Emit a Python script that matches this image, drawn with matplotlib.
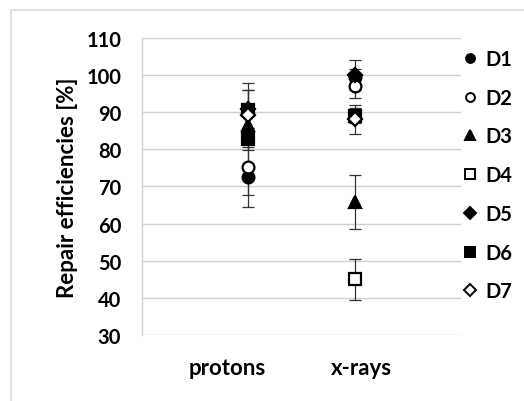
import matplotlib
matplotlib.use("Agg")
import matplotlib.pyplot as plt
from matplotlib.patches import Rectangle
from matplotlib.lines import Line2D

plt.rcParams['font.family'] = ['Lato', 'DejaVu Sans']
plt.rcParams['font.weight'] = 'bold'

categories = ["protons", "x-rays"]
cat_pos = [1, 2]
label_pos = [0.80, 2.06]
series = ["D1", "D2", "D3", "D4", "D5", "D6", "D7"]
values = {
    "D1": [72.5, 99.5],
    "D2": [75.3, 97.0],
    "D3": [86.5, 65.8],
    "D4": [90.5, 45.0],
    "D5": [90.8, 100.0],
    "D6": [82.8, 89.0],
    "D7": [89.3, 88.0],
}
errors = {
    "D1": [8.1, 2.0],
    "D2": [7.6, 3.3],
    "D3": [5.0, 7.2],
    "D4": [7.3, 5.5],
    "D5": [5.0, 4.0],
    "D6": [3.0, 2.0],
    "D7": [6.5, 3.8],
}
styles = {
    "D1": ("o", "black"),
    "D2": ("o", "white"),
    "D3": ("^", "black"),
    "D4": ("s", "white"),
    "D5": ("D", "black"),
    "D6": ("s", "black"),
    "D7": ("D", "white"),
}
sizes = {"o": 8.5, "^": 9, "s": 9, "D": 7.5}
yticks = [30, 40, 50, 60, 70, 80, 90, 100, 110]

fig = plt.figure(figsize=(5.24, 4.02), dpi=100)
ax = fig.add_axes([142/524, 1-336/402, (461-142)/524, (336-38.7)/402])

# chart area border
fig.patches.append(Rectangle((11/524, -0.1), 1.2, 1.1 - 11/402,
                             transform=fig.transFigure, fill=False,
                             edgecolor="#d9d9d9", linewidth=1.2))

handles = []
for s in series:
    ax.errorbar(cat_pos, values[s], yerr=errors[s], fmt="none",
                ecolor="#333333", elinewidth=0.9, capsize=4, capthick=0.9, zorder=2)
for s in series:
    m, fc = styles[s]
    ax.plot(cat_pos, values[s], linestyle="none", marker=m, markersize=sizes[m],
            markerfacecolor=fc, markeredgecolor="black", markeredgewidth=1.6, zorder=3)
    handles.append(Line2D([], [], linestyle="none", marker=m, markersize=sizes[m]*0.75,
                          markerfacecolor=fc, markeredgecolor="black", markeredgewidth=1.4,
                          label=s))

ax.set_xlim(0, 3)
ax.set_ylim(30, 110)
ax.set_yticks(yticks)
ax.set_yticklabels([str(t) for t in yticks], fontsize=14.5, fontweight="bold")
ax.set_xticks(label_pos)
ax.set_xticklabels(categories, fontsize=16, fontweight="bold")
ax.tick_params(axis="y", length=0, pad=15)
ax.tick_params(axis="x", length=0, pad=16)
ax.grid(axis="y", color="#d0d0d0", linewidth=1.0)
ax.set_axisbelow(True)
for sp in ["top", "right", "bottom"]:
    ax.spines[sp].set_visible(False)
ax.spines["left"].set_color("#d0d0d0")
ax.spines["left"].set_linewidth(1.0)

ax.set_ylabel("Repair efficiencies [%]", fontsize=16, fontweight="bold")
ax.yaxis.set_label_coords(-0.20, 0.5)

leg = fig.legend(handles=handles, loc="upper left", bbox_to_anchor=(462/524, 1-50/402),
                 frameon=False, fontsize=14.5, handlelength=0.8, handletextpad=0.35,
                 labelspacing=0.93, borderpad=0, borderaxespad=0)
for t in leg.get_texts():
    t.set_fontweight("bold")

fig.savefig("out.png", dpi=100)
